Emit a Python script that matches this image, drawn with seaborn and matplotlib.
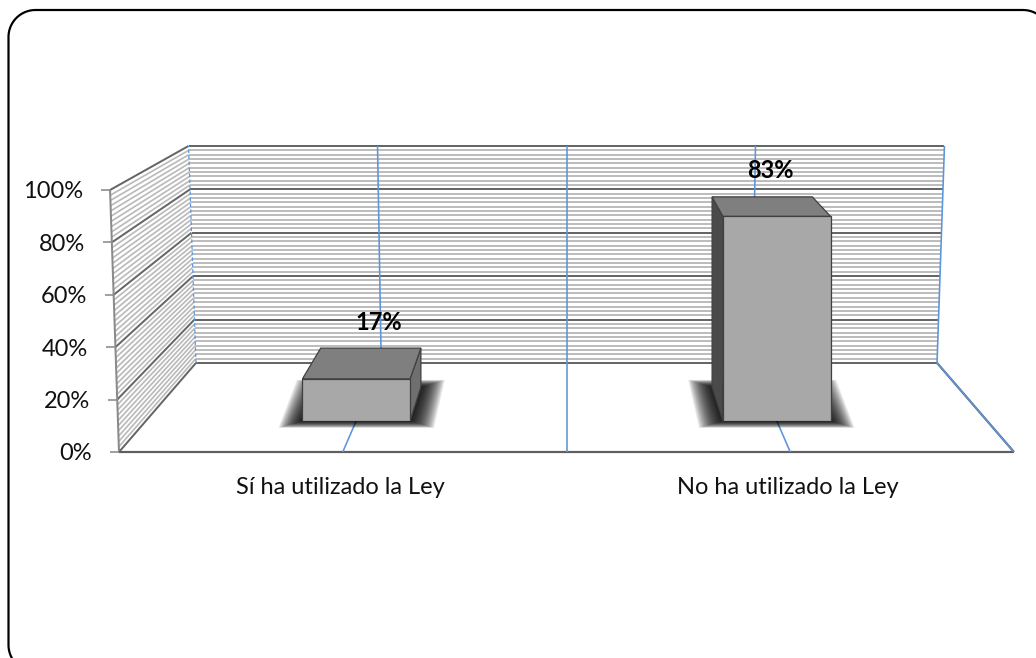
import numpy as np
import pandas as pd
import matplotlib
matplotlib.use("Agg")
import matplotlib.pyplot as plt
import matplotlib.transforms as mtransforms
from matplotlib.patches import Polygon
from matplotlib.lines import Line2D
import seaborn as sns

# ---------------- data ----------------
categories = ["Sí ha utilizado la Ley", "No ha utilizado la Ley"]
values = [17, 83]
value_labels = ["17%", "83%"]
y_ticks = [0, 20, 40, 60, 80, 100]
y_tick_labels = ["0%", "20%", "40%", "60%", "80%", "100%"]

# ---------------- style ----------------
W, H = 1036, 658
sns.set_theme(style="white")
plt.rcParams['font.family'] = ['Lato', 'DejaVu Sans']
FS = 17.0
PT = 0.72  # points per pixel at 100 dpi

# perspective model (pixel space)
CX, FLOOR_Y, PX_PER_PCT, FRONT_W = 566.5, 452.0, 2.62, 895.0
VP_Y = -66.0
K_DEPTH = 0.2077
TILT = 0.0002
D_BAR_F, D_BAR_B = 0.31, 0.69
BAR_WIDTH = 0.256


def proj(u, v, d, tilt=True):
    s = 1.0 / (1.0 + K_DEPTH * d)
    f = (1.0 + TILT * v) if tilt else 1.0
    xf = CX + (u - 0.5) * FRONT_W * f
    yf = FLOOR_Y - PX_PER_PCT * v
    return (CX + (xf - CX) * s, VP_Y + (yf - VP_Y) * s)


def cat_to_u(c):
    return 0.25 + 0.5 * c


fig = plt.figure(figsize=(W / 100, H / 100), dpi=100)
fig.patch.set_facecolor("white")

# axes whose data plane is the bars' front plane
xl, yb = proj(cat_to_u(-0.5), 0, D_BAR_F, tilt=False)
xr, yt = proj(cat_to_u(1.5), 100, D_BAR_F, tilt=False)
ax = fig.add_axes([xl / W, 1 - yb / H, (xr - xl) / W, (yb - yt) / H])
pix = mtransforms.Affine2D().scale(1.0 / W, -1.0 / H).translate(0, 1) + fig.transFigure

df = pd.DataFrame({"cat": categories, "val": values})
sns.barplot(data=df, x="cat", y="val", width=BAR_WIDTH, color="#a8a8a8",
            saturation=1, edgecolor="#404040", linewidth=0.9, ax=ax, zorder=3)
bars = list(ax.patches)
ax.set_xlim(-0.5, 1.5)
ax.set_ylim(0, 100)
ax.axis("off")


def line(pts, color, lw_px, z, **kw):
    xs = [p[0] for p in pts]
    ys = [p[1] for p in pts]
    ax.add_line(Line2D(xs, ys, color=color, lw=lw_px * PT, transform=pix,
                       clip_on=False, zorder=z, solid_capstyle="butt", **kw))


def poly(pts, z, **kw):
    ax.add_patch(Polygon(pts, closed=True, transform=pix, clip_on=False,
                         zorder=z, **kw))


STRIPE = "#bababa"
MAJOR = "#666666"
BLUE = "#5b95dc"

# ---- back wall ----
poly([proj(0, 0, 1), proj(1, 0, 1), proj(1, 100, 1), proj(0, 100, 1)], 0.1,
     facecolor="white", edgecolor="none")
for v in range(2, 100, 2):
    if v % 20:
        line([proj(0, v, 1), proj(1, v, 1)], STRIPE, 1.9, 0.2)
for v in y_ticks:
    line([proj(0, v, 1), proj(1, v, 1)], MAJOR, 2.0, 0.3)

# ---- left wall ----
poly([proj(0, 0, 0), proj(0, 0, 1), proj(0, 100, 1), proj(0, 100, 0)], 0.1,
     facecolor="white", edgecolor="none")
for v in range(2, 100, 2):
    if v % 20:
        line([proj(0, v, 0), proj(0, v, 1)], STRIPE, 1.7, 0.2)
for v in y_ticks:
    line([proj(0, v, 0), proj(0, v, 1)], MAJOR, 2.0, 0.3)
line([proj(0, 0, 0), proj(0, 100, 0)], "#8a8a8a", 2.0, 0.35)

# ---- floor ----
line([proj(0, 0, 0), proj(1, 0, 0)], "#5f5f5f", 2.2, 0.35)
line([proj(1, 0, 1), proj(1, 0, 0)], "#5f5f5f", 2.2, 0.35)

# ---- blue category gridlines ----
for u in [0.25, 0.5, 0.75, 1.0]:
    line([proj(u, 0, 1), proj(u, 100, 1)], BLUE, 1.6, 0.5)
    line([proj(u, 0, 1), proj(u, 0, 0)], BLUE, 1.6, 0.5)
line([proj(0, 0, 1), proj(0, 100, 1)], BLUE, 1.2, 0.5, linestyle=(0, (3, 2)))

# ---- y ticks and labels ----
for v, lab in zip(y_ticks, y_tick_labels):
    x, y = proj(0, v, 0)
    line([(x - 9, y), (x, y)], "#8a8a8a", 1.6, 0.4)
    ax.text(x - 27, y + 2, lab, transform=pix, ha="right", va="center",
            fontsize=FS, color="#111111", clip_on=False)

# ---- category labels ----
for i, lab in enumerate(categories):
    x, y = proj(cat_to_u(i), 0, 0)
    ax.text(x - 2, y + 36, lab, transform=pix, ha="center", va="center",
            fontsize=FS, color="#111111", clip_on=False)

# ---- 3D bar faces, shadows, value labels ----
for p, lab in zip(bars, value_labels):
    c0 = p.get_x()
    c1 = c0 + p.get_width()
    h = p.get_height()
    ul, ur = cat_to_u(c0), cat_to_u(c1)
    uc = 0.5 * (ul + ur)
    # soft shadow on floor
    fp = [proj(ul, 0, D_BAR_F, False), proj(ur, 0, D_BAR_F, False),
          proj(ur, 0, D_BAR_B, False), proj(ul, 0, D_BAR_B, False)]
    cxm = np.mean([q[0] for q in fp])
    cym = np.mean([q[1] for q in fp])
    for m in np.linspace(24, 1, 24):
        pts = [(q[0] + np.sign(q[0] - cxm) * m,
                q[1] + np.sign(q[1] - cym) * m * 0.3) for q in fp]
        poly(pts, 1.0, facecolor="black", edgecolor="none", alpha=0.075)
    # side face
    if uc < 0.5:
        us, sc = ur, "#6f6f6f"
    else:
        us, sc = ul, "#4a4a4a"
    poly([proj(us, 0, D_BAR_F, False), proj(us, h, D_BAR_F, False),
          proj(us, h, D_BAR_B, False), proj(us, 0, D_BAR_B, False)], 2.0,
         facecolor=sc, edgecolor="#404040", linewidth=0.9)
    # top face
    poly([proj(ul, h, D_BAR_F, False), proj(ur, h, D_BAR_F, False),
          proj(ur, h, D_BAR_B, False), proj(ul, h, D_BAR_B, False)], 2.0,
         facecolor="#7f7f7f", edgecolor="#404040", linewidth=0.9)
    # value label
    x, y = proj(uc, h, D_BAR_B, False)
    ax.text(x + 8, y - 26, lab, transform=pix, ha="center", va="center",
            fontsize=FS, fontweight="bold", color="black", clip_on=False,
            zorder=6)

# ---- outer rounded border (pixel coordinates) ----
def rounded_rect(x0, y0, x1, y1, r, n=20):
    pts = []
    corners = [(x1 - r, y0 + r, -90, 0), (x1 - r, y1 - r, 0, 90),
               (x0 + r, y1 - r, 90, 180), (x0 + r, y0 + r, 180, 270)]
    for cx, cy, a0, a1 in corners:
        for a in np.linspace(np.radians(a0), np.radians(a1), n):
            pts.append((cx + r * np.cos(a), cy + r * np.sin(a)))
    return pts

poly(rounded_rect(8.5, 10, 1050, 672, 27), 10, facecolor="none",
     edgecolor="black", linewidth=2.2 * PT)

ax.set_xlim(-0.5, 1.5)
ax.set_ylim(0, 100)
fig.savefig("out.png", dpi=100, facecolor="white")
